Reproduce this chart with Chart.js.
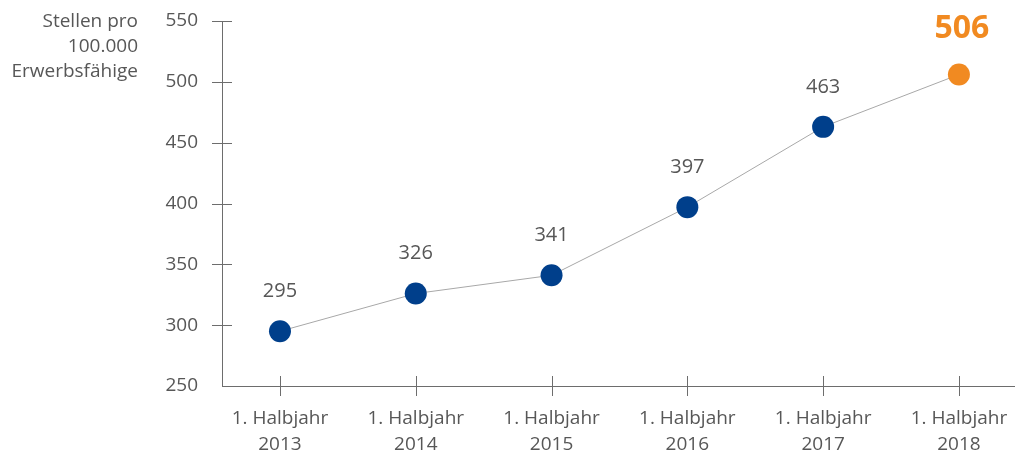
<!DOCTYPE html>
<html>
<head>
<meta charset="utf-8">
<script src="https://cdn.jsdelivr.net/npm/chart.js@4/dist/chart.umd.min.js"></script>
<style>
  html, body { margin: 0; padding: 0; background: #ffffff; }
  #wrap { width: 1015px; height: 454px; position: relative; }
</style>
</head>
<body>
<div id="wrap"><canvas id="c" width="1015" height="454"></canvas></div>
<script>
// ---- data ----
const halfYears = ['1. Halbjahr', '1. Halbjahr', '1. Halbjahr', '1. Halbjahr', '1. Halbjahr', '1. Halbjahr'];
const years = ['2013', '2014', '2015', '2016', '2017', '2018'];
const values = [295, 326, 341, 397, 463, 506];
const yTicks = [250, 300, 350, 400, 450, 500, 550];
const yTitleLines = ['Stellen pro', '100.000', 'Erwerbsfähige'];
const highlightIndex = 5;

// ---- styles ----
const FONT = "'Open Sans', 'Noto Sans', sans-serif";
const TEXT = '#575757';
const AXIS = '#6d6d6d';
const BLUE = '#003f8b';
const ORANGE = '#f18a21';
const LINE = '#a8a8a8';

const points = values.map((v, i) => ({ x: i, y: v }));

const tickMarks = {
  id: 'tickMarks',
  afterDraw(chart) {
    const ctx = chart.ctx;
    const xs = chart.scales.x, ys = chart.scales.y;
    const a = chart.chartArea;
    ctx.save();
    ctx.strokeStyle = AXIS;
    ctx.lineWidth = 1;
    ctx.beginPath();
    xs.ticks.forEach(t => {
      const px = Math.round(xs.getPixelForValue(t.value)) + 0.5;
      ctx.moveTo(px, a.bottom - 10);
      ctx.lineTo(px, a.bottom + 10);
    });
    ys.ticks.forEach(t => {
      if (t.value === ys.min) return;
      const py = Math.round(ys.getPixelForValue(t.value)) + 0.5;
      ctx.moveTo(a.left - 10, py);
      ctx.lineTo(a.left + 10, py);
    });
    ctx.stroke();
    ctx.restore();
  }
};

const valueLabels = {
  id: 'valueLabels',
  afterDatasetsDraw(chart) {
    const ctx = chart.ctx;
    const meta = chart.getDatasetMeta(0);
    ctx.save();
    ctx.textAlign = 'center';
    ctx.textBaseline = 'middle';
    meta.data.forEach((el, i) => {
      if (i === highlightIndex) {
        ctx.fillStyle = ORANGE;
        ctx.font = 'bold 32px ' + FONT;
        ctx.fillText(String(values[i]), el.x + 3, el.y - 46);
      } else {
        ctx.fillStyle = TEXT;
        ctx.font = '20px ' + FONT;
        ctx.fillText(String(values[i]), el.x, el.y - 40);
      }
    });
    ctx.restore();
  }
};

const yTitle = {
  id: 'yTitle',
  afterDraw(chart) {
    const ctx = chart.ctx;
    const a = chart.chartArea;
    ctx.save();
    ctx.fillStyle = TEXT;
    ctx.font = '19px ' + FONT;
    ctx.textAlign = 'right';
    ctx.textBaseline = 'middle';
    yTitleLines.forEach((s, i) => {
      ctx.fillText(s, a.left - 84, a.top + 1 + i * 25);
    });
    ctx.restore();
  }
};

new Chart(document.getElementById('c'), {
  type: 'line',
  data: {
    datasets: [{
      data: points,
      borderColor: LINE,
      borderWidth: 1,
      pointRadius: 11,
      pointHoverRadius: 11,
      pointBorderWidth: 0,
      pointBackgroundColor: values.map((v, i) => i === highlightIndex ? ORANGE : BLUE),
      tension: 0,
      clip: false
    }]
  },
  options: {
    responsive: false,
    animation: false,
    events: [],
    layout: { autoPadding: false, padding: { top: 21, right: 0, bottom: 0, left: 0 } },
    plugins: { legend: { display: false }, tooltip: { enabled: false } },
    scales: {
      x: {
        type: 'linear',
        min: -0.427,
        max: 5.413,
        afterBuildTicks(scale) { scale.ticks = years.map((y, i) => ({ value: i })); },
        afterFit(scale) {
          scale.height = 68;
          scale.paddingLeft = 0; scale.paddingRight = 0;
          scale.paddingTop = 0; scale.paddingBottom = 0;
        },
        grid: { display: false, drawTicks: false },
        border: { display: true, color: AXIS, width: 1 },
        ticks: {
          padding: 20,
          color: TEXT,
          font: { family: FONT, size: 19, lineHeight: 1.35 },
          maxRotation: 0,
          autoSkip: false,
          callback: (v) => [halfYears[v], years[v]]
        }
      },
      y: {
        min: yTicks[0],
        max: yTicks[yTicks.length - 1],
        afterBuildTicks(scale) { scale.ticks = yTicks.map(v => ({ value: v })); },
        afterFit(scale) {
          scale.width = 222;
          scale.paddingLeft = 0; scale.paddingRight = 0;
          scale.paddingTop = 0; scale.paddingBottom = 0;
        },
        grid: { display: false, drawTicks: false },
        border: { display: true, color: AXIS, width: 1 },
        ticks: {
          padding: 24,
          color: TEXT,
          font: { family: FONT, size: 19 },
          callback: (v) => String(v)
        }
      }
    }
  },
  plugins: [tickMarks, valueLabels, yTitle]
});
</script>
</body>
</html>
